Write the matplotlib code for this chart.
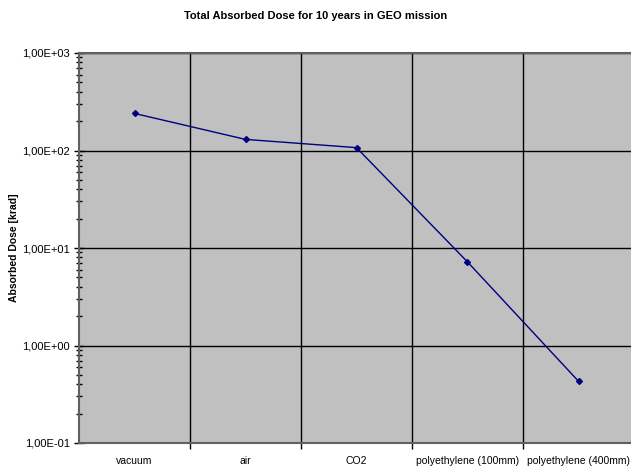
import matplotlib.pyplot as plt
from matplotlib.ticker import FixedLocator, LogLocator, FuncFormatter, NullFormatter

# -------------------------------
# Data
# -------------------------------
materials = ["vacuum", "air", "CO2", "polyethylene (100mm)", "polyethylene (400mm)"]
dose_krad = [240, 130, 107, 7.2, 0.43]

TITLE = "Total Absorbed Dose for 10 years in GEO mission"
YLABEL = "Absorbed Dose [krad]"

plt.rcParams['font.family'] = ['Liberation Sans', 'DejaVu Sans']


def excel_sci(v, pos):
    """Format like Excel: 1,00E+03"""
    return f"{v:.2E}".replace(".", ",")


fig = plt.figure(figsize=(6.31, 4.67), dpi=100)
ax = fig.add_axes([79 / 631, 24 / 467, 555 / 631, 390 / 467])
ax.set_facecolor("#C0C0C0")

x = list(range(len(materials)))
ax.plot(x, dose_krad, color="#000080", linewidth=1, marker="D", markersize=3,
        markerfacecolor="#000080", markeredgecolor="#000080", zorder=3)

ax.set_yscale("log")
ax.set_ylim(0.1, 1000)
ax.set_xlim(-0.5, len(materials) - 0.5)

# y ticks
ax.yaxis.set_major_locator(LogLocator(base=10, numticks=10))
ax.yaxis.set_major_formatter(FuncFormatter(excel_sci))
ax.yaxis.set_minor_locator(LogLocator(base=10, subs=range(2, 10), numticks=10))
ax.yaxis.set_minor_formatter(NullFormatter())
ax.tick_params(axis="y", which="major", direction="inout", length=7, width=1,
               labelsize=8, pad=3)
ax.tick_params(axis="y", which="minor", direction="inout", length=5, width=1)

# x ticks: labels at centers, tick marks at boundaries
ax.xaxis.set_major_locator(FixedLocator(x))
ax.set_xticklabels(materials)
ax.xaxis.set_minor_locator(FixedLocator([i + 0.5 for i in x[:-1]]))
ax.tick_params(axis="x", which="major", length=0, labelsize=7.5, pad=9)
ax.tick_params(axis="x", which="minor", direction="out", length=4, width=1)

# grid
ax.grid(True, which="major", axis="y", color="black", linewidth=1)
ax.grid(True, which="minor", axis="x", color="black", linewidth=1)
ax.set_axisbelow(True)

for side in ["left", "bottom", "top"]:
    ax.spines[side].set_color("#606060")
    ax.spines[side].set_linewidth(1.5)
ax.spines["right"].set_visible(False)

fig.text(0.5, 1 - 16 / 467, TITLE, fontsize=8, fontweight="bold",
         ha="center", va="center")
fig.text(14 / 631, 1 - 248 / 467, YLABEL, fontsize=7.5, fontweight="bold",
         rotation=90, ha="center", va="center")

fig.savefig("out.png", dpi=100)
